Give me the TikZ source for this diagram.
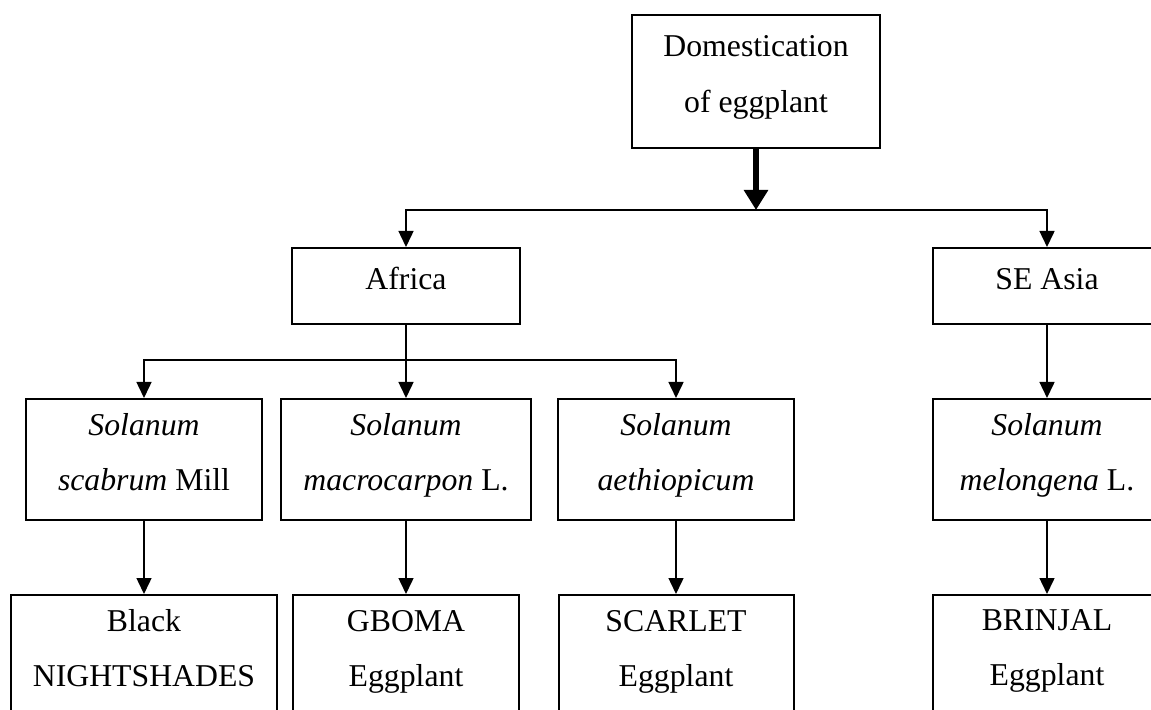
\documentclass[tikz,border=0pt]{standalone}
\usepackage{fontspec}
\setmainfont{Liberation Serif}
\usetikzlibrary{positioning,arrows.meta}
\newcommand{\bstrut}{\rule[-6pt]{0pt}{15.2pt}}

\begin{document}
\begin{tikzpicture}[
x=0.4pt,y=-0.4pt,
node distance=29.2pt,
box/.style={rectangle,draw,line width=0.8pt,minimum height=48.4pt,align=center,
inner sep=0pt,font=\fontsize{12.7}{22}\selectfont,
execute at begin node=\bstrut,execute at end node=\bstrut},
arrow/.style={-{Triangle[width=6pt,length=6.4pt]},line width=0.6pt},
bigarrow/.style={-{Triangle[width=9.3pt,length=8pt]},line width=2.4pt}
]
\useasboundingbox (0,0) rectangle (1151,710);
\clip (0,0) rectangle (1151,710);
\node[box,minimum width=99.2pt,minimum height=53.2pt] (dom) at (756,81.5) {Domestication\\of eggplant};
\node[box,minimum width=91.2pt,minimum height=30.4pt] (africa) at (406,286) {Africa};
\node[box,minimum width=91.2pt,minimum height=30.4pt] (seasia) at (1047,286) {SE Asia};
\node[box,minimum width=94pt] (scabrum) at (144,459.5) {\textit{Solanum}\\\textit{scabrum} Mill};
\node[box,minimum width=100pt,below=of africa] (macro) {\textit{Solanum}\\\textit{macrocarpon} L.};
\node[box,minimum width=94.4pt] (aethio) at (676,459.5) {\textit{Solanum}\\\textit{aethiopicum}};
\node[box,minimum width=91.2pt,below=of seasia] (melong) {\textit{Solanum}\\\textit{melongena} L.};
\node[box,minimum width=106pt,below=of scabrum] (black) {Black\\NIGHTSHADES};
\node[box,minimum width=90.4pt,below=of macro] (gboma) {GBOMA\\Eggplant};
\node[box,minimum width=94pt,below=of aethio] (scarlet) {SCARLET\\Eggplant};
\node[box,minimum width=91.2pt,below=of melong] (brinjal) {BRINJAL\\Eggplant};
\coordinate (split) at (756,210);
\coordinate (afork) at (406,360);
\draw[bigarrow] (dom) -- (split);
\draw[arrow] (split) -| (africa); \draw[arrow] (split) -| (seasia);
\draw[arrow] (africa) -- (macro);
\draw[arrow] (afork) -| (scabrum); \draw[arrow] (afork) -| (aethio);
\draw[arrow] (seasia) -- (melong);
\draw[arrow] (scabrum) -- (black); \draw[arrow] (macro) -- (gboma);
\draw[arrow] (aethio) -- (scarlet); \draw[arrow] (melong) -- (brinjal);
\end{tikzpicture}
\end{document}
